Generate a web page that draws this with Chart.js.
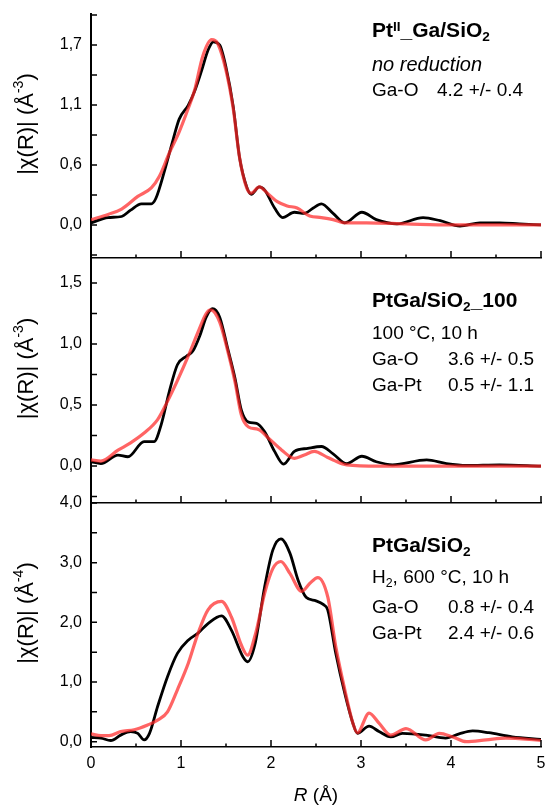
<!DOCTYPE html>
<html>
<head>
<meta charset="utf-8">
<script src="https://cdn.jsdelivr.net/npm/chart.js@4.4.0/dist/chart.umd.min.js"></script>
<style>
body{margin:0;background:#fff;}
#wrap{position:relative;width:545px;height:807px;overflow:hidden;font-family:"Liberation Sans",Arial,sans-serif;color:#000;}
#wrap canvas{position:absolute;left:0;}
.t{position:absolute;white-space:nowrap;font-size:19px;line-height:19px;}
.b{font-weight:bold;font-size:21px;line-height:21px;}
.i{font-style:italic;font-size:20px;line-height:20px;}
.sub,.sup{position:relative;font-size:0.65em;line-height:0;vertical-align:baseline;}
.sub{top:0.3em;}
.sup{top:-0.45em;}
</style>
</head>
<body>
<div id="wrap">
  <canvas id="c1" width="545" height="272" style="top:0px"></canvas>
  <canvas id="c2" width="545" height="270" style="top:246px"></canvas>
  <canvas id="c3" width="545" height="316" style="top:491px"></canvas>

  <div class="t b" style="left:372px;top:19px">Pt<span class="sup">II</span>_Ga/SiO<span class="sub">2</span></div>
  <div class="t i" style="left:372px;top:54px">no reduction</div>
  <div class="t" style="left:372px;top:80px">Ga-O</div>
  <div class="t" style="left:437px;top:80px">4.2 +/- 0.4</div>

  <div class="t b" style="left:372px;top:289px">PtGa/SiO<span class="sub">2</span>_100</div>
  <div class="t" style="left:372px;top:323px">100 °C, 10 h</div>
  <div class="t" style="left:372px;top:349px">Ga-O</div>
  <div class="t" style="left:448px;top:349px">3.6 +/- 0.5</div>
  <div class="t" style="left:372px;top:375px">Ga-Pt</div>
  <div class="t" style="left:448px;top:375px">0.5 +/- 1.1</div>

  <div class="t b" style="left:372px;top:534px">PtGa/SiO<span class="sub">2</span></div>
  <div class="t" style="left:372px;top:567px">H<span class="sub">2</span>, 600 °C, 10 h</div>
  <div class="t" style="left:372px;top:597px">Ga-O</div>
  <div class="t" style="left:448px;top:597px">0.8 +/- 0.4</div>
  <div class="t" style="left:372px;top:623px">Ga-Pt</div>
  <div class="t" style="left:448px;top:623px">2.4 +/- 0.6</div>
</div>
<script>
// |chi(R)| traces, R in Angstrom
const r1Black = [0,0.19,0.34,0.44,0.56,0.67,0.72,0.82,0.91,0.98,1.08,1.15,1.23,1.30,1.36,1.43,1.50,1.58,1.65,1.73,1.78,1.87,1.93,2.04,2.13,2.26,2.37,2.47,2.56,2.69,2.82,3.01,3.17,3.40,3.69,3.88,4.10,4.32,4.54,4.76,5.0];
const chi1Black = [0.02,0.07,0.08,0.14,0.20,0.20,0.25,0.52,0.80,1.00,1.13,1.26,1.46,1.65,1.73,1.70,1.49,1.12,0.64,0.36,0.29,0.36,0.33,0.16,0.07,0.12,0.11,0.16,0.20,0.11,0.02,0.12,0.05,0.01,0.07,0.04,-0.01,0.02,0.02,0.01,0.0];
const r1Red = [0,0.19,0.34,0.52,0.67,0.76,0.87,0.98,1.08,1.15,1.24,1.34,1.41,1.50,1.58,1.65,1.73,1.78,1.87,1.96,2.07,2.18,2.29,2.43,2.56,2.69,2.82,3.06,3.5,4.0,4.5,5.0];
const chi1Red = [0.05,0.10,0.15,0.27,0.35,0.46,0.68,0.88,1.10,1.27,1.59,1.75,1.71,1.46,1.10,0.64,0.35,0.30,0.36,0.30,0.22,0.18,0.16,0.085,0.07,0.05,0.02,0.02,0.01,0.0,0.0,0.0];

const r2Black = [0,0.11,0.30,0.41,0.59,0.70,0.78,0.87,0.96,1.06,1.13,1.21,1.28,1.35,1.43,1.52,1.60,1.67,1.75,1.84,1.93,2.04,2.14,2.26,2.41,2.56,2.69,2.84,3.01,3.17,3.35,3.73,3.95,4.17,4.54,5.0];
const chi2Black = [0.035,0.02,0.09,0.076,0.20,0.20,0.34,0.61,0.83,0.90,0.94,1.07,1.22,1.29,1.22,0.96,0.72,0.46,0.36,0.35,0.28,0.12,0.015,0.12,0.145,0.16,0.10,0.02,0.08,0.035,0.01,0.05,0.02,0.005,0.01,0.0];
const r2Red = [0,0.11,0.30,0.44,0.59,0.74,0.85,0.96,1.08,1.19,1.28,1.33,1.43,1.52,1.60,1.67,1.75,1.86,1.97,2.12,2.26,2.37,2.48,2.63,2.69,2.84,3.2,4.0,5.0];
const chi2Red = [0.05,0.04,0.13,0.19,0.27,0.38,0.53,0.70,0.90,1.10,1.25,1.28,1.18,0.94,0.69,0.42,0.32,0.30,0.23,0.13,0.063,0.09,0.12,0.07,0.05,0.01,0.0,0.0,0.0];

const r3Black = [0,0.11,0.22,0.33,0.44,0.52,0.59,0.65,0.74,0.85,0.96,1.08,1.19,1.30,1.45,1.56,1.69,1.74,1.82,1.93,2.02,2.11,2.21,2.30,2.39,2.50,2.58,2.63,2.72,2.82,2.91,2.96,3.09,3.20,3.33,3.46,3.72,3.94,4.09,4.24,4.42,4.68,5.0];
const chi3Black = [0.07,0.06,0.02,0.11,0.17,0.14,0.03,0.14,0.59,1.09,1.48,1.70,1.82,1.98,2.11,1.87,1.42,1.34,1.62,2.60,3.21,3.40,3.16,2.71,2.42,2.36,2.30,2.21,1.48,0.81,0.31,0.14,0.26,0.17,0.08,0.14,0.11,0.06,0.13,0.18,0.15,0.08,0.04];
const r3Red = [0,0.11,0.20,0.33,0.48,0.63,0.74,0.85,0.96,1.08,1.19,1.30,1.45,1.56,1.67,1.74,1.83,1.93,2.02,2.11,2.21,2.34,2.43,2.52,2.63,2.72,2.82,2.91,2.96,3.09,3.20,3.33,3.50,3.72,3.87,4.02,4.17,4.39,4.61,5.0];
const chi3Red = [0.13,0.10,0.10,0.17,0.20,0.28,0.36,0.50,0.87,1.31,1.82,2.21,2.35,2.09,1.62,1.45,1.82,2.49,2.90,3.02,2.82,2.52,2.65,2.75,2.43,1.59,0.87,0.31,0.15,0.48,0.31,0.11,0.22,0.03,0.14,0.08,0.0,0.03,0.06,0.02];

// axis ticks
const xTickLabels = [0,1,2,3,4,5];
const yTicks1 = [0, 1.7/3, 3.4/3, 1.7];   // printed 0,0 0,6 1,1 1,7
const yTicks2 = [0, 0.5, 1.0, 1.5];
const yTicks3 = [0, 1, 2, 3, 4];
const yMinor1 = 1.7/6, yMinor2 = 0.25, yMinor3 = 0.5;
const xMinor = 0.5;

const FONT = '"Liberation Sans", Arial, sans-serif';
Chart.defaults.font.family = FONT;
Chart.defaults.color = '#000';

const pts = (xs, ys) => xs.map((x, i) => ({x, y: ys[i]}));
const comma = v => Number(v).toFixed(1).replace('.', ',');

// inward tick marks + axis titles
const decor = {
  id: 'decor',
  afterDraw(chart, args, o) {
    const {ctx, chartArea: a, scales: {x, y}} = chart;
    ctx.save();
    ctx.strokeStyle = '#000'; ctx.lineWidth = 1.5;
    ctx.beginPath();
    for (let k = Math.ceil(y.min / o.yStep - 1e-6); k * o.yStep <= y.max + 1e-6; k++) {
      const py = y.getPixelForValue(k * o.yStep);
      ctx.moveTo(a.left, py); ctx.lineTo(a.left + 6, py);
    }
    for (let k = 1; k * xMinor <= 5 + 1e-6; k++) {
      const px = x.getPixelForValue(k * xMinor);
      ctx.moveTo(px, a.bottom); ctx.lineTo(px, a.bottom - (k % 2 ? 3.5 : 7));
    }
    ctx.stroke();

    // y title with superscript
    ctx.fillStyle = '#000';
    ctx.translate(33, (a.top + a.bottom) / 2 - 12);
    ctx.rotate(-Math.PI / 2);
    const big = '22px ' + FONT, small = '14px ' + FONT;
    ctx.font = big; const w1 = ctx.measureText('|χ(R)| (Å').width, w3 = ctx.measureText(')').width;
    ctx.font = small; const w2 = ctx.measureText(o.sup).width;
    let sx = -(w1 + w2 + w3) / 2;
    ctx.font = big; ctx.fillText('|χ(R)| (Å', sx, 0);
    ctx.font = small; ctx.fillText(o.sup, sx + w1, -10);
    ctx.font = big; ctx.fillText(')', sx + w1 + w2, 0);
    ctx.restore();

    if (o.xTitle) {
      ctx.save();
      ctx.fillStyle = '#000';
      ctx.font = 'italic 19px ' + FONT; const wr = ctx.measureText('R').width;
      ctx.font = '19px ' + FONT; const wa = ctx.measureText(' (Å)').width;
      const cx = x.getPixelForValue(2.5) - (wr + wa) / 2, by = a.bottom + 54;
      ctx.font = 'italic 19px ' + FONT; ctx.fillText('R', cx, by);
      ctx.font = '19px ' + FONT; ctx.fillText(' (Å)', cx + wr, by);
      ctx.restore();
    }
  }
};

function panel(id, rb, yb, rr, yr, o) {
  return new Chart(document.getElementById(id), {
    type: 'line',
    data: {
      datasets: [
        {data: pts(rr, yr), borderColor: 'rgba(255,40,40,0.72)', borderWidth: 3.2, pointRadius: 0, cubicInterpolationMode: 'monotone', order: 0},
        {data: pts(rb, yb), borderColor: '#000', borderWidth: 2.8, pointRadius: 0, cubicInterpolationMode: 'monotone', order: 1}
      ]
    },
    options: {
      responsive: false, animation: false,
      layout: {padding: {top: o.padTop, right: 4, bottom: 0, left: 0}},
      plugins: {legend: {display: false}, tooltip: {enabled: false}, decor: {yStep: o.yStep, sup: o.sup, xTitle: o.xTitle}},
      scales: {
        x: {
          type: 'linear', min: 0, max: 5,
          afterFit: s => { s.height = o.xHeight; s.paddingLeft = 0; s.paddingRight = 0; },
          afterBuildTicks: s => { s.ticks = xTickLabels.map(v => ({value: v})); },
          grid: {display: true, drawOnChartArea: false, drawTicks: false},
          border: {display: true, color: '#000', width: 1.5},
          ticks: {display: !!o.xTitle, padding: 7, font: {size: 16}, autoSkip: false, maxRotation: 0, callback: v => v}
        },
        y: {
          min: o.yMin, max: o.yMax,
          afterFit: s => { s.width = 91; s.paddingTop = 0; s.paddingBottom = 0; },
          afterBuildTicks: s => { s.ticks = o.yTicks.map(v => ({value: v})); },
          grid: {display: true, drawOnChartArea: false, drawTicks: false},
          border: {display: true, color: '#000', width: 2},
          ticks: {padding: 9, font: {size: 16}, autoSkip: false, callback: comma}
        }
      }
    },
    plugins: [decor]
  });
}

panel('c1', r1Black, chi1Black, r1Red, chi1Red, {padTop: 14, xHeight: 14, yMin: -0.312, yMax: 1.993, yTicks: yTicks1, yStep: yMinor1, sup: '-3'});
panel('c2', r2Black, chi2Black, r2Red, chi2Red, {padTop: 12, xHeight: 13, yMin: -0.303, yMax: 1.705, yTicks: yTicks2, yStep: yMinor2, sup: '-3'});
panel('c3', r3Black, chi3Black, r3Red, chi3Red, {padTop: 12, xHeight: 60, yMin: -0.089, yMax: 4.0, yTicks: yTicks3, yStep: yMinor3, sup: '-4', xTitle: true});
</script>
</body>
</html>
